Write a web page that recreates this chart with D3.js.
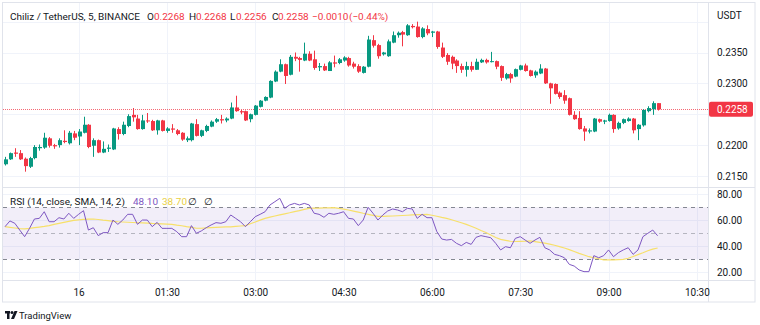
<!DOCTYPE html>
<html><head><meta charset="utf-8">
<script src="https://cdn.jsdelivr.net/npm/d3@7/dist/d3.min.js"></script>
<style>
html,body{margin:0;padding:0;background:#fff;}
svg{display:block;font-family:Roboto,"Noto Sans",sans-serif;}
</style></head><body>
<svg id="c" width="760" height="325"></svg>
<script>
// ---------------- DATA ----------------
const opens  = [.2169,.2177,.2188,.2187,.2178,.2165,.2179,.2195,.2196,.2211,.2200,.2200,.2207,.2203,.2219,.2214,.2220,.2233,.2199,.2208,.2188,.2194,.2193,.2226,.2218,.2231,.2249,.2243,.2226,.2240,.2239,.2224,.2240,.2223,.2227,.2224,.2220,.2208,.2208,.2234,.2215,.2223,.2230,.2238,.2242,.2240,.2243,.2261,.2255,.2255,.2242,.2249,.2262,.2272,.2277,.2303,.2319,.2331,.2314,.2343,.2341,.2337,.2348,.2339,.2326,.2328,.2320,.2334,.2333,.2337,.2341,.2332,.2328,.2317,.2327,.2370,.2362,.2347,.2344,.2366,.2378,.2383,.2378,.2393,.2392,.2375,.2388,.2382,.2384,.2358,.2346,.2343,.2337,.2328,.2322,.2328,.2322,.2334,.2338,.2335,.2336,.2328,.2308,.2315,.2311,.2322,.2329,.2321,.2313,.2316,.2324,.2300,.2299,.2285,.2281,.2276,.2249,.2244,.2227,.2222,.2222,.2242,.2238,.2239,.2249,.2227,.2236,.2239,.2243,.2226,.2232,.2255,.2258,.2268];
const highs  = [.2181,.2188,.2195,.2192,.2180,.2181,.2200,.2201,.2220,.2213,.2202,.2211,.2224,.2223,.2223,.2226,.2246,.2234,.2211,.2209,.2206,.2201,.2228,.2229,.2238,.2250,.2260,.2249,.2249,.2252,.2241,.2241,.2241,.2229,.2234,.2226,.2221,.2214,.2236,.2242,.2225,.2233,.2240,.2244,.2249,.2245,.2269,.2280,.2257,.2256,.2251,.2265,.2273,.2279,.2305,.2321,.2339,.2332,.2346,.2350,.2343,.2366,.2352,.2353,.2333,.2332,.2336,.2345,.2341,.2344,.2343,.2335,.2331,.2328,.2377,.2378,.2364,.2351,.2371,.2384,.2384,.2385,.2396,.2396,.2400,.2391,.2394,.2385,.2385,.2366,.2349,.2345,.2339,.2332,.2335,.2335,.2340,.2340,.2340,.2351,.2337,.2329,.2317,.2317,.2324,.2330,.2332,.2322,.2321,.2331,.2325,.2301,.2300,.2287,.2289,.2277,.2255,.2255,.2231,.2227,.2244,.2243,.2241,.2251,.2250,.2238,.2243,.2245,.2244,.2234,.2258,.2263,.2271,.2268];
const lows   = [.2167,.2176,.2181,.2176,.2157,.2163,.2177,.2191,.2194,.2196,.2194,.2196,.2203,.2201,.2208,.2200,.2219,.2195,.2181,.2187,.2187,.2189,.2192,.2209,.2216,.2229,.2238,.2225,.2225,.2236,.2223,.2217,.2222,.2220,.2220,.2216,.2207,.2205,.2206,.2214,.2213,.2221,.2229,.2236,.2235,.2237,.2242,.2254,.2250,.2239,.2237,.2248,.2261,.2271,.2276,.2302,.2318,.2299,.2313,.2336,.2319,.2336,.2336,.2322,.2320,.2320,.2320,.2326,.2331,.2335,.2327,.2324,.2317,.2316,.2326,.2358,.2340,.2345,.2343,.2365,.2374,.2360,.2377,.2389,.2374,.2373,.2378,.2375,.2356,.2341,.2330,.2323,.2317,.2317,.2311,.2319,.2322,.2333,.2332,.2334,.2323,.2304,.2306,.2301,.2310,.2321,.2319,.2311,.2309,.2315,.2299,.2267,.2282,.2275,.2267,.2248,.2241,.2225,.2207,.2219,.2221,.2236,.2234,.2238,.2220,.2225,.2234,.2238,.2219,.2208,.2230,.2253,.2249,.2256];
const closes = [.2177,.2187,.2186,.2177,.2166,.2179,.2197,.2197,.2212,.2199,.2198,.2208,.2205,.2220,.2212,.2222,.2233,.2197,.2208,.2188,.2194,.2196,.2227,.2218,.2233,.2247,.2245,.2226,.2240,.2239,.2224,.2240,.2223,.2227,.2225,.2218,.2209,.2211,.2235,.2215,.2224,.2231,.2238,.2242,.2240,.2243,.2261,.2255,.2253,.2240,.2250,.2264,.2272,.2278,.2304,.2319,.2331,.2312,.2343,.2340,.2338,.2348,.2337,.2325,.2328,.2321,.2334,.2332,.2339,.2342,.2329,.2327,.2319,.2327,.2371,.2361,.2344,.2350,.2368,.2378,.2382,.2379,.2394,.2391,.2375,.2389,.2381,.2384,.2359,.2343,.2335,.2332,.2328,.2322,.2328,.2322,.2335,.2338,.2334,.2336,.2327,.2309,.2315,.2308,.2323,.2329,.2320,.2312,.2319,.2324,.2300,.2292,.2283,.2278,.2272,.2249,.2242,.2226,.2222,.2224,.2243,.2238,.2240,.2249,.2226,.2236,.2242,.2243,.2224,.2233,.2257,.2260,.2268,.2258];
const rsiValues = [55.1,59.5,57.7,52.5,47.4,53.8,61.0,61.5,66.6,58.9,58.9,62.0,61.0,65.4,61.5,64.6,67.4,52.5,54.3,48.2,50.5,50.5,60.2,56.9,60.2,64.6,64.6,56.9,60.2,60.2,55.1,58.4,53.8,53.8,53.8,51.3,47.4,47.4,55.9,50.0,51.8,54.3,56.4,58.2,57.7,58.9,64.1,61.5,58.9,55.1,58.9,62.8,64.6,66.6,71.8,74.3,76.9,69.2,71.8,73.0,71.8,73.0,71.8,65.4,64.6,62.3,65.4,64.6,65.4,66.6,61.5,61.0,55.9,60.2,70.0,65.4,60.2,64.1,67.2,68.7,67.9,66.6,69.2,68.7,61.5,64.6,62.0,62.0,51.3,45.6,44.8,45.3,42.3,40.5,43.0,41.5,46.9,48.2,47.4,46.6,42.3,37.2,39.7,38.9,46.1,47.4,44.8,42.3,44.8,46.9,38.9,37.2,33.8,32.8,31.2,26.1,24.8,21.8,20.5,20.5,32.8,31.2,32.8,37.2,32.0,35.1,37.2,38.9,33.8,37.2,47.4,50.0,52.5,48.1];
const rsiSma = [55.1,54.6,54.1,53.6,53.4,53.8,54.3,54.8,55.3,55.9,56.8,57.6,58.4,59.2,60.0,60.4,60.7,60.9,61.0,60.6,60.1,59.7,59.2,58.9,58.7,58.5,58.3,58.1,58.0,57.8,57.6,57.5,57.3,57.1,56.9,56.3,55.8,55.1,54.5,53.9,53.9,54.1,54.3,54.5,54.7,54.9,55.0,55.3,55.6,55.9,57.3,58.7,60.1,61.5,62.4,63.3,64.2,65.0,65.8,66.7,67.5,68.4,69.2,69.3,69.4,69.5,69.6,69.7,69.2,68.6,67.9,67.1,66.3,65.4,64.6,63.8,63.0,63.0,63.2,63.3,63.5,63.7,63.9,64.1,64.3,64.4,64.6,63.9,63.1,62.2,61.5,60.4,59.3,58.1,56.9,55.4,53.9,52.2,50.6,48.7,46.8,45.3,44.6,43.9,43.7,43.8,43.9,44.1,43.6,43.0,42.5,41.7,40.8,39.8,38.7,37.4,36.0,34.6,33.3,32.0,31.2,30.4,29.6,29.5,29.6,29.8,30.0,30.8,32.2,33.6,35.0,36.6,37.8,38.7];
const priceGridTicks = [0.2150,0.2200,0.2250,0.2300,0.2350,0.2400];
const priceLabelTicks = [0.2150,0.2200,0.2300,0.2350];
const rsiTicks = [20,40,60,80];
const rsiBands = [70,50,30];
const timeTickLabels = ["16","01:30","03:00","04:30","06:00","07:30","09:00","10:30"];
const timeTickTimes = ["2022-01-16T00:00Z","2022-01-16T01:30Z","2022-01-16T03:00Z","2022-01-16T04:30Z","2022-01-16T06:00Z","2022-01-16T07:30Z","2022-01-16T09:00Z","2022-01-16T10:30Z"];
const firstCandleTime = "2022-01-15T22:45Z";
const lastPrice = 0.2258;
const headerTitle = "Chiliz / TetherUS, 5, BINANCE";
const ohlcLabels = ["O","H","L","C"];
const ohlcValues = ["0.2268","0.2268","0.2256","0.2258"];
const changeText = ["\u22120.0010","(\u22120.44%)"];
const rsiTitle = "RSI (14, close, SMA, 14, 2)";
const rsiLegendValues = ["48.10","38.70"];

// ---------------- LAYOUT ----------------
const plotL = 3, plotR = 708, frameR = 755;
const mainT = 3, mainB = 187, rsiT = 188, rsiB = 280, axisB = 302;
const candleMs = 5 * 60000, pxPerCandle = 4.907;
const up = "#089981", down = "#f23645", txt = "#131722", grid = "#f0f3fa", border = "#e0e3eb";

const t0 = new Date(firstCandleTime).getTime();
const times = opens.map((_, i) => new Date(t0 + i * candleMs));
const candles = opens.map((o, i) => ({t: times[i], o, h: highs[i], l: lows[i], c: closes[i]}));

const x = d3.scaleUtc()
  .domain([new Date(t0 - (5 - plotL) / pxPerCandle * candleMs), new Date(t0 + (plotR - 5) / pxPerCandle * candleMs)])
  .range([plotL, plotR]);
const y = d3.scaleLinear().domain([0.2150, 0.2350]).range([176, 52.5]);
const yr = d3.scaleLinear().domain([20, 80]).range([272.3, 194.3]);

const svg = d3.select("#c");
svg.append("rect").attr("width", 760).attr("height", 325).attr("fill", "#fff");

svg.append("clipPath").attr("id", "mainClip").append("rect")
  .attr("x", plotL).attr("y", mainT).attr("width", plotR - plotL).attr("height", mainB - mainT);
svg.append("clipPath").attr("id", "rsiClip").append("rect")
  .attr("x", plotL).attr("y", rsiT).attr("width", plotR - plotL).attr("height", rsiB - rsiT);

const tickDates = timeTickTimes.map(s => new Date(s));
svg.append("g").selectAll("line").data(tickDates).join("line")
  .attr("x1", d => Math.round(x(d)) + 0.5).attr("x2", d => Math.round(x(d)) + 0.5)
  .attr("y1", mainT).attr("y2", rsiB).attr("stroke", grid).attr("stroke-width", 1);

const mg = svg.append("g").attr("clip-path", "url(#mainClip)");
mg.selectAll("line").data(priceGridTicks).join("line")
  .attr("x1", plotL).attr("x2", plotR)
  .attr("y1", d => Math.round(y(d)) + 0.5).attr("y2", d => Math.round(y(d)) + 0.5)
  .attr("stroke", grid);

const rg = svg.append("g").attr("clip-path", "url(#rsiClip)");
rg.selectAll("line.g").data(rsiTicks).join("line").attr("class", "g")
  .attr("x1", plotL).attr("x2", plotR)
  .attr("y1", d => Math.round(yr(d)) + 0.5).attr("y2", d => Math.round(yr(d)) + 0.5)
  .attr("stroke", grid);
rg.append("rect").attr("x", plotL).attr("width", plotR - plotL)
  .attr("y", yr(rsiBands[0])).attr("height", yr(rsiBands[2]) - yr(rsiBands[0]))
  .attr("fill", "rgba(126,87,194,0.1)");
rg.selectAll("line.b").data(rsiBands).join("line").attr("class", "b")
  .attr("x1", plotL).attr("x2", plotR)
  .attr("y1", d => Math.round(yr(d)) + 0.5).attr("y2", d => Math.round(yr(d)) + 0.5)
  .attr("stroke", "#787b86").attr("stroke-opacity", (d, i) => i === 1 ? 0.5 : 0.9)
  .attr("stroke-dasharray", "4,4");

// last price dotted line (under candles)
mg.append("line").attr("x1", plotL).attr("x2", plotR)
  .attr("y1", Math.round(y(lastPrice)) + 0.5).attr("y2", Math.round(y(lastPrice)) + 0.5)
  .attr("stroke", down).attr("stroke-opacity", 0.75).attr("stroke-dasharray", "1,1").attr("stroke-width", 1);

const cg = mg.append("g");
cg.selectAll("line").data(candles).join("line")
  .attr("x1", d => Math.round(x(d.t)) + 0.5).attr("x2", d => Math.round(x(d.t)) + 0.5)
  .attr("y1", d => y(d.h)).attr("y2", d => y(d.l))
  .attr("stroke", d => d.c >= d.o ? up : down).attr("stroke-width", 1);
cg.selectAll("rect").data(candles).join("rect")
  .attr("x", d => Math.round(x(d.t)) - 1).attr("width", 4)
  .attr("y", d => y(Math.max(d.o, d.c)))
  .attr("height", d => Math.max(1, Math.abs(y(d.o) - y(d.c))))
  .attr("fill", d => d.c >= d.o ? up : down);

rg.append("path").datum(rsiSma).attr("fill", "none").attr("stroke", "#f7e06a").attr("stroke-width", 1.2)
  .attr("d", d3.line().x((d, i) => x(times[i])).y(d => yr(d)));
rg.append("path").datum(rsiValues).attr("fill", "none").attr("stroke", "#7e57c2").attr("stroke-width", 1)
  .attr("d", d3.line().x((d, i) => x(times[i])).y(d => yr(d)));

svg.append("rect").attr("x", 2.5).attr("y", 2.5).attr("width", frameR - 2.5).attr("height", axisB - 2.5)
  .attr("fill", "none").attr("stroke", border);
svg.append("line").attr("x1", 3).attr("x2", frameR).attr("y1", 187.5).attr("y2", 187.5).attr("stroke", border);
svg.append("line").attr("x1", plotR + 0.5).attr("x2", plotR + 0.5).attr("y1", 3).attr("y2", axisB).attr("stroke", border);
svg.append("line").attr("x1", 3).attr("x2", frameR).attr("y1", rsiB + 0.5).attr("y2", rsiB + 0.5).attr("stroke", border);

const axFont = "10px";
const pa = svg.append("g").attr("transform", `translate(${plotR},0)`)
  .call(d3.axisRight(y).tickValues(priceLabelTicks).tickFormat(d3.format(".4f")).tickSize(0).tickPadding(9));
pa.select(".domain").remove();
pa.selectAll("text").attr("fill", txt).style("font-size", axFont).style("font-family", "Roboto");

svg.append("text").attr("x", 717).attr("y", 18.5).text("USDT")
  .attr("fill", txt).style("font-size", axFont);

svg.append("rect").attr("x", plotR + 1).attr("y", y(lastPrice) - 7.5).attr("width", 44).attr("height", 15)
  .attr("rx", 2).attr("fill", down);
svg.append("text").attr("x", 717).attr("y", y(lastPrice)).attr("dy", "0.35em")
  .text(d3.format(".4f")(lastPrice)).attr("fill", "#fff").style("font-size", axFont);

const ra = svg.append("g").attr("transform", `translate(${plotR},0)`)
  .call(d3.axisRight(yr).tickValues(rsiTicks).tickFormat(d3.format(".2f")).tickSize(0).tickPadding(9));
ra.select(".domain").remove();
ra.selectAll("text").attr("fill", txt).style("font-size", axFont).style("font-family", "Roboto");

const ta = svg.append("g").attr("transform", `translate(0,${rsiB})`)
  .call(d3.axisBottom(x).tickValues(tickDates).tickFormat((d, i) => timeTickLabels[i]).tickSize(0).tickPadding(9));
ta.select(".domain").remove();
ta.selectAll("text").attr("fill", txt).style("font-size", axFont).style("font-family", "Roboto");

// fit header font so the title spans the reference width
const probe = svg.append("text").style("font-size", "10px").text(headerTitle);
const hfs = Math.min(10.5, 10 * 130 / probe.node().getComputedTextLength());
probe.remove();
const hf = hfs + "px";
svg.append("text").attr("x", 10).attr("y", 19.5).text(headerTitle).attr("fill", txt).style("font-size", hf);
const lx = [147, 189, 230, 272], vx = [154, 196, 236, 278];
ohlcLabels.forEach((l, i) => {
  svg.append("text").attr("x", lx[i]).attr("y", 19.5).text(l).attr("fill", txt).style("font-size", hf);
  svg.append("text").attr("x", vx[i]).attr("y", 19.5).text(ohlcValues[i]).attr("fill", down).style("font-size", hf);
});
svg.append("text").attr("x", 312).attr("y", 19.5).text(changeText[0]).attr("fill", down).style("font-size", hf);
svg.append("text").attr("x", 349).attr("y", 19.5).text(changeText[1]).attr("fill", down).style("font-size", hf);

svg.append("text").attr("x", 10).attr("y", 204.5).text(rsiTitle).attr("fill", txt).style("font-size", hf);
svg.append("text").attr("x", 133).attr("y", 204.5).text(rsiLegendValues[0]).attr("fill", "#7e57c2").style("font-size", hf);
svg.append("text").attr("x", 162).attr("y", 204.5).text(rsiLegendValues[1]).attr("fill", "#e9cf45").style("font-size", hf);
svg.append("text").attr("x", 188).attr("y", 204.5).text("\u2205").attr("fill", txt).style("font-size", hf);
svg.append("text").attr("x", 204).attr("y", 204.5).text("\u2205").attr("fill", txt).style("font-size", hf);

const logo = svg.append("g").attr("transform", "translate(5,311)").attr("fill", "#131722");
logo.append("rect").attr("x", 0).attr("y", 0).attr("width", 5).attr("height", 2.5);
logo.append("rect").attr("x", 2).attr("y", 0).attr("width", 2.5).attr("height", 8);
logo.append("circle").attr("cx", 7).attr("cy", 1.6).attr("r", 1.5);
logo.append("path").attr("d", "M9.5,0 L12.5,0 L9,8 L6,8 Z");
svg.append("text").attr("x", 19).attr("y", 319).text("TradingView").attr("fill", "#131722").style("font-size", "9.5px");
</script>
</body></html>
